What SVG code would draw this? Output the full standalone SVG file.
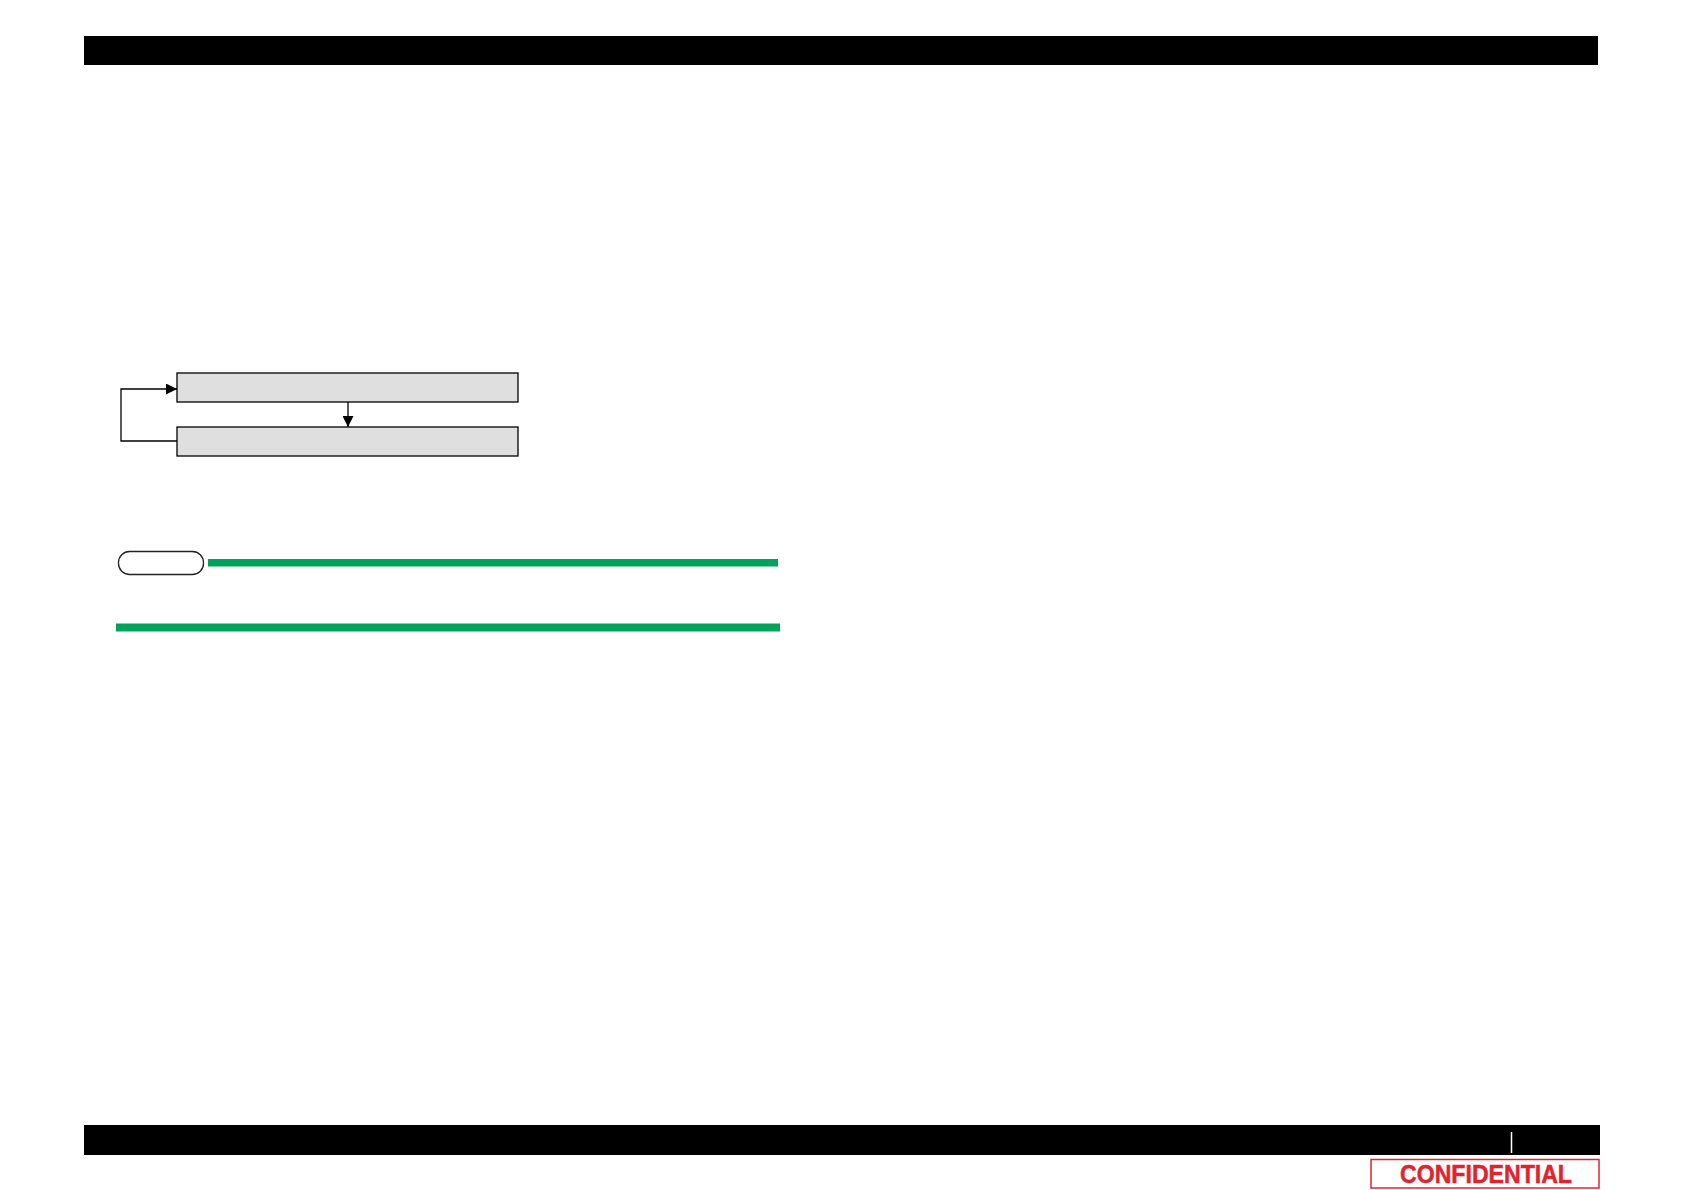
<svg xmlns="http://www.w3.org/2000/svg" width="1684" height="1190" viewBox="0 0 1684 1190">
<style>
.box{fill:#dfdfdf;stroke:#000;stroke-width:1.3}
.conn{fill:none;stroke:#000;stroke-width:1.3}
.green{fill:#00a359}
.bar{fill:#000}
</style>
<defs>
<marker id="ah" viewBox="0 0 10 10" refX="10" refY="5" markerWidth="12" markerHeight="11" markerUnits="userSpaceOnUse" orient="auto">
<path d="M0,0 L10,5 L0,10 z" fill="#000"/>
</marker>
</defs>
<rect width="1684" height="1190" fill="#fff"/>
<rect class="bar" x="84" y="36" width="1514" height="29"/>
<g id="node1"><rect class="box" x="177" y="373" width="341" height="29"/></g>
<g id="node2"><rect class="box" x="177" y="427" width="341" height="29"/></g>
<g id="connectors">
<path class="conn" d="M348,402 L348,427" marker-end="url(#ah)"/>
<path class="conn" d="M177,441 L121,441 L121,389 L177,389" marker-end="url(#ah)"/>
</g>
<g id="note">
<rect x="118.5" y="551.5" width="85" height="23" rx="11" ry="11" fill="#fff" stroke="#222" stroke-width="1.3"/>
<rect class="green" x="208" y="559" width="570" height="7.5"/>
<rect class="green" x="116" y="623.5" width="664" height="8"/>
</g>
<rect class="bar" x="84" y="1125" width="1516" height="30"/>
<line x1="1511.5" y1="1132" x2="1511.5" y2="1153" stroke="#fff" stroke-width="1.5"/>
<rect x="1371" y="1159.5" width="228" height="28.5" fill="#fff" stroke="#e0242f" stroke-width="1.5"/>
<text x="1486" y="1183" text-anchor="middle" font-family="Liberation Sans, Arial, sans-serif" font-weight="bold" font-size="25" fill="#e0242f" stroke="#e0242f" stroke-width="0.5" textLength="172" lengthAdjust="spacingAndGlyphs">CONFIDENTIAL</text>
</svg>
